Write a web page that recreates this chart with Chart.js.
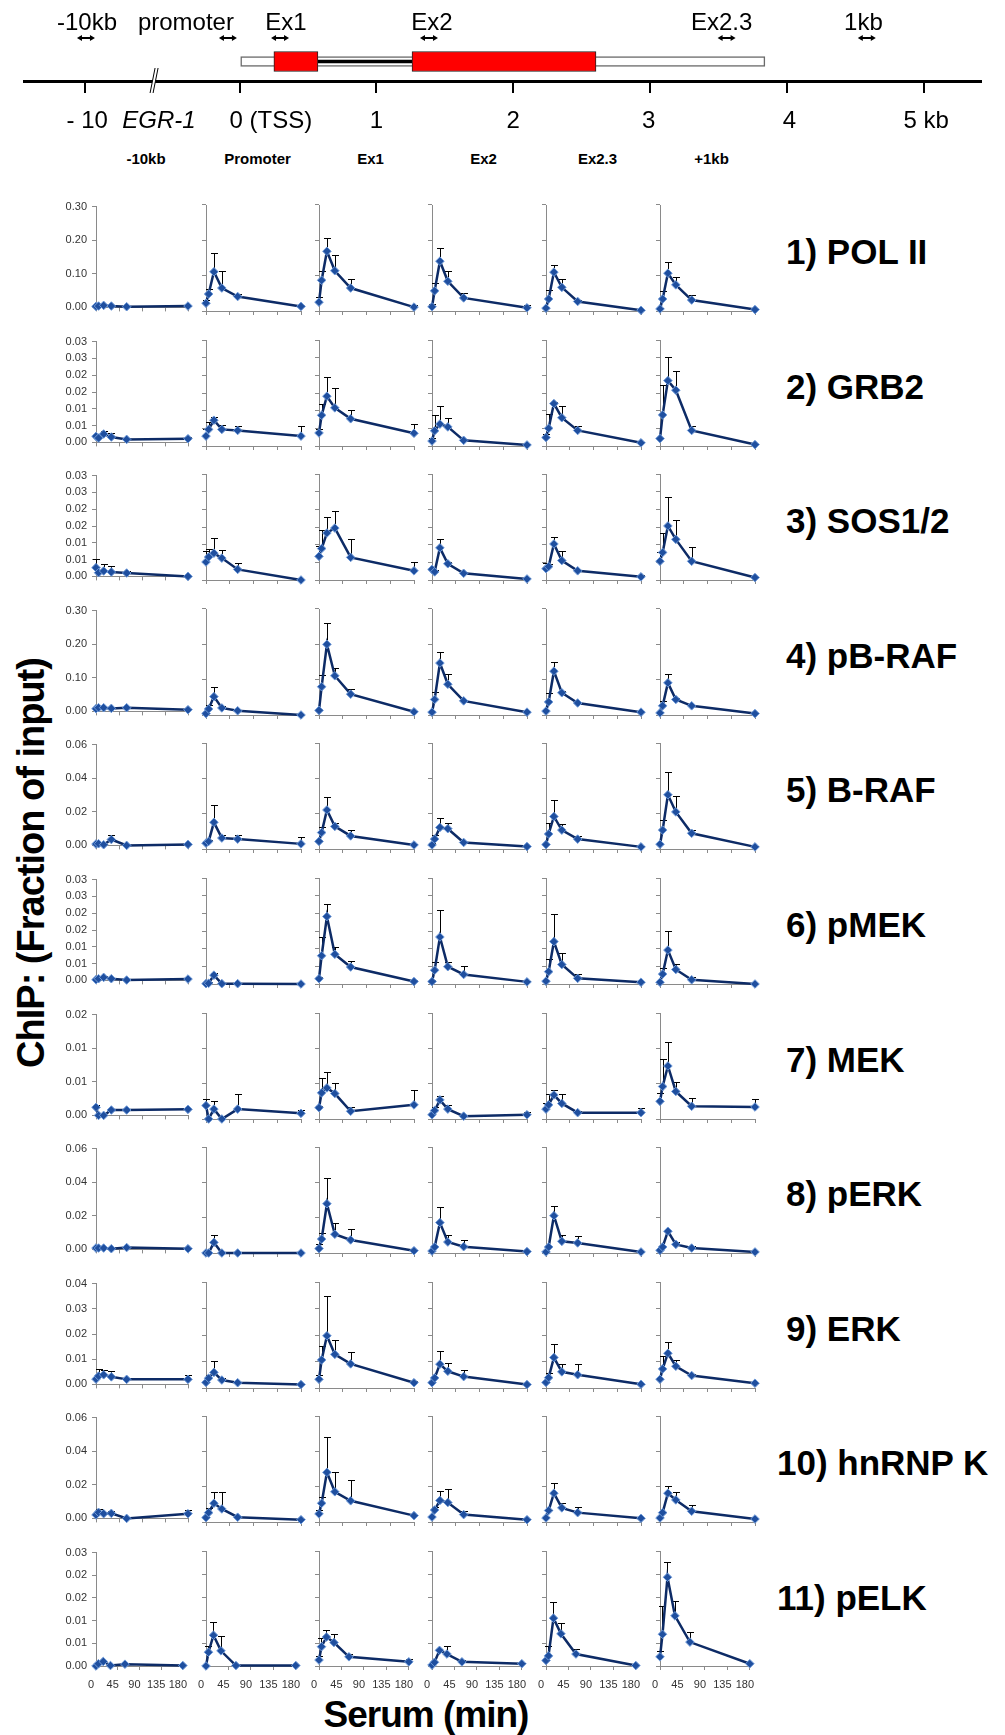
<!DOCTYPE html>
<html>
<head>
<meta charset="utf-8">
<title>EGR-1 ChIP time courses</title>
<script src="https://cdn.jsdelivr.net/npm/chart.js@4.4.1/dist/chart.umd.min.js"></script>
<style>
  body { margin: 0; background: #fff; }
  #page { position: relative; width: 1005px; height: 1735px; overflow: hidden; font-family: 'Liberation Sans', Arial, sans-serif; color: #000; }
  canvas { position: absolute; }
  .hdr { position: absolute; top: 151px; width: 120px; text-align: center; font-weight: bold; font-size: 15px; line-height: 15px; }
  .factor { position: absolute; font-weight: bold; font-size: 35px; line-height: 35px; letter-spacing: 0; white-space: nowrap; }
  #ytitle { position: absolute; left: -209px; top: 841px; width: 480px; height: 44px; line-height: 44px; text-align: center;
            font-weight: bold; font-size: 38px; letter-spacing: -1px; white-space: nowrap; transform: rotate(-90deg); }
  #xtitle { position: absolute; left: 276px; top: 1696px; width: 300px; text-align: center; font-weight: bold;
            font-size: 37px; line-height: 37px; letter-spacing: -1px; }
</style>
</head>
<body>
<div id="page">
  <canvas id="gene" width="1005" height="140" style="left:0;top:0"></canvas>
  <div id="ytitle">ChIP: (Fraction of input)</div>
  <div id="xtitle">Serum (min)</div>
</div>
<script>
// ---- gene map (kb; the -10 kb site sits left of the axis break) ----
const kbRange = [-1.577, 5.42];
const utr = [0, 3.84];
const exon1 = [0.25, 0.572];
const exon2 = [1.26, 2.605];
const intron = [0.572, 1.26];
const kbTicks = [-1.131, 0, 1, 2, 3, 4, 5];
const kbLabels = ['- 10', '0 (TSS)', '1', '2', '3', '4', '5 kb'];
const kbLabelPos = [-1.115, 0.228, 1, 2, 2.99, 4.02, 5.02];
const geneName = 'EGR-1';
const geneNamePos = -0.59;
const axisBreakKb = -0.626;
const primers = ['-10kb', 'promoter', 'Ex1', 'Ex2', 'Ex2.3', '1kb'];
const primerPos = [-1.124, -0.086, 0.295, 1.384, 3.56, 4.585];
const primerLabelPos = [-1.116, -0.393, 0.338, 1.405, 3.524, 4.56];

// ---- ChIP panels ----
const times = [0, 5, 15, 30, 60, 180];
const timeTicks = [0, 45, 90, 135, 180];
const regions = ['-10kb', 'Promoter', 'Ex1', 'Ex2', 'Ex2.3', '+1kb'];
const factors = ['1) POL II', '2) GRB2', '3) SOS1/2', '4) pB-RAF', '5) B-RAF', '6) pMEK',
                 '7) MEK', '8) pERK', '9) ERK', '10) hnRNP K', '11) pELK'];
const yMax  = [0.30, 0.03, 0.03, 0.30, 0.06, 0.03, 0.015, 0.06, 0.04, 0.06, 0.025];
const yStep = [0.10, 0.005, 0.005, 0.10, 0.02, 0.005, 0.005, 0.02, 0.01, 0.02, 0.005];

// one row per region (-10kb, Promoter, Ex1, Ex2, Ex2.3, +1kb), one value per time point
const polII = [
  [0.003, 0.004, 0.006, 0.004, 0.002, 0.004],
  [0.022, 0.048, 0.111, 0.065, 0.041, 0.013],
  [0.025, 0.087, 0.169, 0.114, 0.065, 0.011],
  [0.012, 0.057, 0.141, 0.084, 0.037, 0.009],
  [0.008, 0.034, 0.110, 0.067, 0.027, 0.002],
  [0.006, 0.034, 0.107, 0.074, 0.031, 0.004]];
const polIIErr = [
  [0.001, 0.001, 0.001, 0.001, 0.001, 0.001],
  [0.009, 0.014, 0.052, 0.048, 0.006, 0.005],
  [0.016, 0.026, 0.039, 0.044, 0.025, 0.007],
  [0.009, 0.023, 0.037, 0.029, 0.014, 0.008],
  [0.003, 0.026, 0.020, 0.023, 0.005, 0.002],
  [0.003, 0.023, 0.032, 0.023, 0.013, 0.002]];

const grb2 = [
  [0.0018, 0.0013, 0.0025, 0.0016, 0.0009, 0.0011],
  [0.0028, 0.0047, 0.0073, 0.0047, 0.0044, 0.0028],
  [0.0037, 0.0087, 0.0141, 0.0108, 0.0077, 0.0036],
  [0.0014, 0.0043, 0.0062, 0.0054, 0.0016, 0.0003],
  [0.0024, 0.0050, 0.0120, 0.0080, 0.0044, 0.0009],
  [0.0021, 0.0088, 0.0185, 0.0158, 0.0044, 0.0004]];
const grb2Err = [
  [0.0008, 0.0008, 0.0008, 0.0012, 0.0005, 0.0006],
  [0.0020, 0.0020, 0.0010, 0.0012, 0.0013, 0.0029],
  [0.0010, 0.0033, 0.0053, 0.0056, 0.0024, 0.0026],
  [0.0010, 0.0044, 0.0050, 0.0025, 0.0005, 0.0002],
  [0.0010, 0.0040, 0.0005, 0.0032, 0.0013, 0.0003],
  [0.0003, 0.0084, 0.0067, 0.0053, 0.0013, 0.0002]];

const sos = [
  [0.0026, 0.0011, 0.0016, 0.0013, 0.0010, 0.0000],
  [0.0051, 0.0065, 0.0076, 0.0062, 0.0030, 0.0000],
  [0.0067, 0.0089, 0.0133, 0.0147, 0.0064, 0.0026],
  [0.0030, 0.0023, 0.0091, 0.0046, 0.0019, 0.0003],
  [0.0032, 0.0038, 0.0102, 0.0055, 0.0026, 0.0009],
  [0.0053, 0.0078, 0.0153, 0.0115, 0.0053, 0.0007]];
const sosErr = [
  [0.0025, 0.0008, 0.0020, 0.0017, 0.0005, 0.0000],
  [0.0030, 0.0022, 0.0044, 0.0024, 0.0017, 0.0000],
  [0.0028, 0.0052, 0.0044, 0.0047, 0.0052, 0.0025],
  [0.0005, 0.0005, 0.0025, 0.0005, 0.0003, 0.0002],
  [0.0017, 0.0008, 0.0019, 0.0027, 0.0003, 0.0004],
  [0.0027, 0.0054, 0.0081, 0.0054, 0.0041, 0.0002]];

const pbraf = [
  [0.008, 0.011, 0.011, 0.009, 0.011, 0.005],
  [0.004, 0.017, 0.052, 0.020, 0.012, 0.000],
  [0.013, 0.080, 0.200, 0.111, 0.059, 0.009],
  [0.008, 0.044, 0.147, 0.087, 0.040, 0.008],
  [0.011, 0.037, 0.124, 0.063, 0.034, 0.008],
  [0.006, 0.026, 0.091, 0.044, 0.026, 0.004]];
const pbrafErr = [
  [0.002, 0.002, 0.002, 0.002, 0.002, 0.002],
  [0.005, 0.011, 0.027, 0.006, 0.003, 0.001],
  [0.003, 0.034, 0.061, 0.021, 0.014, 0.002],
  [0.002, 0.022, 0.030, 0.029, 0.002, 0.002],
  [0.002, 0.026, 0.026, 0.004, 0.003, 0.002],
  [0.002, 0.014, 0.025, 0.003, 0.002, 0.001]];

const braf = [
  [0.0008, 0.0010, 0.0004, 0.0035, 0.0000, 0.0006],
  [0.0033, 0.0043, 0.0151, 0.0062, 0.0056, 0.0029],
  [0.0043, 0.0093, 0.0221, 0.0128, 0.0074, 0.0023],
  [0.0023, 0.0056, 0.0122, 0.0115, 0.0037, 0.0014],
  [0.0025, 0.0085, 0.0184, 0.0107, 0.0056, 0.0012],
  [0.0027, 0.0107, 0.0307, 0.0210, 0.0089, 0.0012]];
const brafErr = [
  [0.0005, 0.0005, 0.0005, 0.0025, 0.0003, 0.0003],
  [0.0010, 0.0010, 0.0098, 0.0015, 0.0024, 0.0037],
  [0.0010, 0.0033, 0.0074, 0.0022, 0.0031, 0.0005],
  [0.0010, 0.0026, 0.0051, 0.0031, 0.0005, 0.0003],
  [0.0005, 0.0061, 0.0092, 0.0033, 0.0016, 0.0003],
  [0.0005, 0.0058, 0.0130, 0.0091, 0.0018, 0.0003]];

const pmek = [
  [0.0002, 0.0005, 0.0009, 0.0005, 0.0001, 0.0004],
  [0.0001, 0.0002, 0.0025, 0.0001, 0.0001, 0.0000],
  [0.0015, 0.0080, 0.0191, 0.0084, 0.0048, 0.0007],
  [0.0007, 0.0039, 0.0133, 0.0049, 0.0027, 0.0006],
  [0.0008, 0.0035, 0.0120, 0.0055, 0.0016, 0.0005],
  [0.0005, 0.0028, 0.0096, 0.0041, 0.0012, 0.0000]];
const pmekErr = [
  [0.0002, 0.0002, 0.0003, 0.0002, 0.0001, 0.0002],
  [0.0000, 0.0003, 0.0007, 0.0000, 0.0000, 0.0000],
  [0.0005, 0.0052, 0.0035, 0.0021, 0.0016, 0.0003],
  [0.0003, 0.0022, 0.0077, 0.0014, 0.0023, 0.0002],
  [0.0003, 0.0035, 0.0077, 0.0033, 0.0012, 0.0002],
  [0.0002, 0.0018, 0.0055, 0.0015, 0.0008, 0.0001]];

const mek = [
  [0.0012, 0.0000, 0.0000, 0.0008, 0.0008, 0.0009],
  [0.0019, 0.0000, 0.0014, 0.0000, 0.0014, 0.0008],
  [0.0016, 0.0037, 0.0044, 0.0036, 0.0011, 0.0020],
  [0.0006, 0.0012, 0.0027, 0.0014, 0.0004, 0.0006],
  [0.0014, 0.0020, 0.0034, 0.0022, 0.0009, 0.0009],
  [0.0025, 0.0046, 0.0075, 0.0039, 0.0018, 0.0017]];
const mekErr = [
  [0.0004, 0.0000, 0.0000, 0.0002, 0.0002, 0.0002],
  [0.0009, 0.0000, 0.0011, 0.0000, 0.0021, 0.0005],
  [0.0003, 0.0021, 0.0022, 0.0015, 0.0006, 0.0021],
  [0.0002, 0.0005, 0.0006, 0.0006, 0.0001, 0.0004],
  [0.0008, 0.0015, 0.0007, 0.0013, 0.0002, 0.0007],
  [0.0012, 0.0039, 0.0034, 0.0014, 0.0012, 0.0011]];

const perk = [
  [0.0008, 0.0008, 0.0008, 0.0004, 0.0011, 0.0004],
  [0.0000, 0.0000, 0.0060, 0.0000, 0.0000, 0.0000],
  [0.0025, 0.0079, 0.0279, 0.0106, 0.0074, 0.0013],
  [0.0011, 0.0034, 0.0172, 0.0062, 0.0036, 0.0008],
  [0.0006, 0.0034, 0.0211, 0.0066, 0.0057, 0.0006],
  [0.0015, 0.0034, 0.0123, 0.0049, 0.0028, 0.0006]];
const perkErr = [
  [0.0003, 0.0003, 0.0003, 0.0003, 0.0003, 0.0003],
  [0.0000, 0.0000, 0.0042, 0.0000, 0.0000, 0.0000],
  [0.0024, 0.0034, 0.0146, 0.0066, 0.0060, 0.0005],
  [0.0005, 0.0005, 0.0088, 0.0038, 0.0036, 0.0003],
  [0.0003, 0.0005, 0.0055, 0.0034, 0.0037, 0.0002],
  [0.0003, 0.0008, 0.0009, 0.0013, 0.0010, 0.0002]];

const erk = [
  [0.0021, 0.0033, 0.0038, 0.0030, 0.0020, 0.0020],
  [0.0021, 0.0037, 0.0059, 0.0030, 0.0020, 0.0013],
  [0.0033, 0.0106, 0.0197, 0.0127, 0.0091, 0.0020],
  [0.0020, 0.0038, 0.0090, 0.0063, 0.0043, 0.0013],
  [0.0021, 0.0039, 0.0115, 0.0061, 0.0050, 0.0014],
  [0.0033, 0.0072, 0.0131, 0.0082, 0.0047, 0.0018]];
const erkErr = [
  [0.0005, 0.0030, 0.0019, 0.0023, 0.0005, 0.0017],
  [0.0005, 0.0012, 0.0044, 0.0008, 0.0003, 0.0003],
  [0.0015, 0.0054, 0.0149, 0.0055, 0.0043, 0.0008],
  [0.0005, 0.0005, 0.0048, 0.0033, 0.0026, 0.0002],
  [0.0005, 0.0018, 0.0052, 0.0031, 0.0042, 0.0002],
  [0.0005, 0.0048, 0.0041, 0.0025, 0.0005, 0.0002]];

const hnrnpk = [
  [0.0021, 0.0036, 0.0028, 0.0030, 0.0000, 0.0028],
  [0.0025, 0.0053, 0.0106, 0.0074, 0.0027, 0.0013],
  [0.0046, 0.0106, 0.0281, 0.0171, 0.0120, 0.0036],
  [0.0028, 0.0068, 0.0122, 0.0110, 0.0042, 0.0013],
  [0.0023, 0.0065, 0.0163, 0.0080, 0.0053, 0.0021],
  [0.0023, 0.0053, 0.0163, 0.0125, 0.0061, 0.0017]];
const hnrnpkErr = [
  [0.0005, 0.0021, 0.0005, 0.0016, 0.0000, 0.0023],
  [0.0005, 0.0025, 0.0061, 0.0093, 0.0005, 0.0003],
  [0.0020, 0.0033, 0.0201, 0.0110, 0.0115, 0.0005],
  [0.0005, 0.0016, 0.0051, 0.0074, 0.0021, 0.0002],
  [0.0005, 0.0005, 0.0055, 0.0030, 0.0032, 0.0002],
  [0.0003, 0.0005, 0.0038, 0.0046, 0.0036, 0.0002]];

const pelk = [
  [0.0000, 0.0005, 0.0010, 0.0001, 0.0004, 0.0001],
  [0.0000, 0.0030, 0.0067, 0.0033, 0.0001, 0.0001],
  [0.0013, 0.0042, 0.0063, 0.0051, 0.0020, 0.0009],
  [0.0002, 0.0008, 0.0034, 0.0026, 0.0009, 0.0005],
  [0.0012, 0.0022, 0.0104, 0.0070, 0.0026, 0.0001],
  [0.0020, 0.0069, 0.0193, 0.0109, 0.0052, 0.0005]];
const pelkErr = [
  [0.0000, 0.0000, 0.0000, 0.0000, 0.0000, 0.0000],
  [0.0000, 0.0013, 0.0028, 0.0033, 0.0000, 0.0000],
  [0.0008, 0.0018, 0.0015, 0.0018, 0.0006, 0.0006],
  [0.0001, 0.0002, 0.0004, 0.0017, 0.0005, 0.0002],
  [0.0003, 0.0021, 0.0036, 0.0024, 0.0010, 0.0000],
  [0.0012, 0.0061, 0.0034, 0.0032, 0.0023, 0.0000]];

const series = [polII, grb2, sos, pbraf, braf, pmek, mek, perk, erk, hnrnpk, pelk];
const seriesErr = [polIIErr, grb2Err, sosErr, pbrafErr, brafErr, pmekErr, mekErr, perkErr, erkErr, hnrnpkErr, pelkErr];

Chart.defaults.font.family = "'Liberation Sans', Arial, sans-serif";
Chart.defaults.color = '#333';

const page = document.getElementById('page');

// ---------- gene map ----------
function arrow(ctx, x1, x2, y) {
  ctx.beginPath();
  ctx.moveTo(x1 + 3, y); ctx.lineTo(x2 - 3, y); ctx.stroke();
  ctx.beginPath();
  ctx.moveTo(x1, y); ctx.lineTo(x1 + 5, y - 3); ctx.lineTo(x1 + 5, y + 3); ctx.closePath();
  ctx.moveTo(x2, y); ctx.lineTo(x2 - 5, y - 3); ctx.lineTo(x2 - 5, y + 3); ctx.closePath();
  ctx.fill();
}

const geneDecor = {
  id: 'geneDecor',
  afterDraw(chart) {
    const { ctx, chartArea } = chart;
    const x = chart.scales.x;
    const axisY = chartArea.bottom;
    ctx.save();
    ctx.fillStyle = '#000';
    ctx.strokeStyle = '#000';
    ctx.textAlign = 'center';
    ctx.font = "24px 'Liberation Sans', Arial, sans-serif";
    primers.forEach((p, i) => ctx.fillText(p, x.getPixelForValue(primerLabelPos[i]), chartArea.top - 12));
    ctx.lineWidth = 2;
    primerPos.forEach(kb => {
      const cx = x.getPixelForValue(kb);
      arrow(ctx, cx - 9, cx + 9, chartArea.top - 4);
    });
    kbLabels.forEach((t, i) => ctx.fillText(t, x.getPixelForValue(kbLabelPos[i]), axisY + 47));
    ctx.font = "italic 24px 'Liberation Sans', Arial, sans-serif";
    ctx.fillText(geneName, x.getPixelForValue(geneNamePos), axisY + 47);

    // axis break
    const bx = x.getPixelForValue(axisBreakKb);
    ctx.fillStyle = '#fff';
    ctx.beginPath();
    ctx.moveTo(bx - 4, axisY + 12); ctx.lineTo(bx + 1, axisY - 13);
    ctx.lineTo(bx + 4, axisY - 13); ctx.lineTo(bx - 1, axisY + 12); ctx.closePath();
    ctx.fill();
    ctx.lineWidth = 1;
    ctx.beginPath();
    ctx.moveTo(bx - 4, axisY + 12); ctx.lineTo(bx + 1, axisY - 13);
    ctx.moveTo(bx - 1, axisY + 12); ctx.lineTo(bx + 4, axisY - 13);
    ctx.stroke();
    ctx.restore();
  }
};

new Chart(document.getElementById('gene'), {
  type: 'bar',
  data: {
    labels: [geneName],
    datasets: [
      { data: [exon1], backgroundColor: '#ff0000', borderColor: '#222', borderWidth: 1, barThickness: 20, order: 0 },
      { data: [exon2], backgroundColor: '#ff0000', borderColor: '#222', borderWidth: 1, barThickness: 20, order: 0 },
      { data: [intron], backgroundColor: '#000', borderWidth: 0, barThickness: 3, order: 1 },
      { data: [utr], backgroundColor: '#fff', borderColor: '#6a6a6a', borderWidth: 1.5, barThickness: 10, order: 2 }
    ]
  },
  options: {
    indexAxis: 'y',
    responsive: false,
    animation: false,
    devicePixelRatio: 1,
    events: [],
    datasets: { bar: { grouped: false, borderSkipped: false } },
    layout: { padding: { left: 24, right: 24, top: 42, bottom: 0 } },
    plugins: { legend: { display: false }, tooltip: { enabled: false } },
    scales: {
      x: {
        type: 'linear', min: kbRange[0], max: kbRange[1],
        afterBuildTicks: s => { s.ticks = kbTicks.map(v => ({ value: v })); },
        afterFit: s => { s.height = 59; },
        ticks: { display: false },
        grid: { drawOnChartArea: false, drawTicks: true, tickLength: 12, color: '#000', lineWidth: 2 },
        border: { display: true, color: '#000', width: 3 }
      },
      y: { type: 'category', display: false }
    }
  },
  plugins: [geneDecor]
});

// ---------- ChIP panels ----------
const errorBars = {
  id: 'errorBars',
  beforeDatasetsDraw(chart) {
    const { ctx } = chart;
    const x = chart.scales.x, y = chart.scales.y;
    ctx.save();
    ctx.strokeStyle = '#000';
    ctx.lineWidth = 1;
    chart.data.datasets.forEach(ds => {
      ds.data.forEach((p, i) => {
        const e = ds.errors[i];
        if (!e) return;
        const px = Math.round(x.getPixelForValue(p.x)) + 0.5;
        const y0 = y.getPixelForValue(p.y);
        const y1 = Math.round(y.getPixelForValue(p.y + e)) + 0.5;
        ctx.beginPath();
        ctx.moveTo(px, y0); ctx.lineTo(px, y1);
        ctx.moveTo(px - 3.5, y1); ctx.lineTo(px + 3.5, y1);
        ctx.stroke();
      });
    });
    ctx.restore();
  }
};

const colX = [96, 206, 319, 432, 546, 660];
const colW = [92, 95, 95, 95, 95, 95];
const AXIS_W = 50, PAD_TOP = 10, PAD_RIGHT = 12;

regions.forEach((name, c) => {
  const d = document.createElement('div');
  d.className = 'hdr';
  d.textContent = name;
  d.style.left = (colX[c] + colW[c] / 2 + 4 - 60) + 'px';
  page.appendChild(d);
});

factors.forEach((label, r) => {
  const rowTop = Math.round(205 + r * 134.6);
  const plotH = r === factors.length - 1 ? 115 : 106;
  const bottomRow = r === factors.length - 1;
  const xAxisH = bottomRow ? 30 : 8;

  const f = document.createElement('div');
  f.className = 'factor';
  f.textContent = label;
  f.style.left = (r >= 9 ? 777 : 786) + 'px';
  f.style.top = (rowTop + 29) + 'px';
  page.appendChild(f);

  regions.forEach((region, c) => {
    const cv = document.createElement('canvas');
    cv.width = AXIS_W + colW[c] + PAD_RIGHT;
    cv.height = PAD_TOP + plotH + xAxisH;
    cv.style.left = (colX[c] - AXIS_W) + 'px';
    cv.style.top = (rowTop - PAD_TOP) + 'px';
    page.appendChild(cv);

    const vals = series[r][c];
    const errs = seriesErr[r][c];
    const nY = Math.round(yMax[r] / yStep[r]);

    new Chart(cv, {
      type: 'line',
      data: {
        datasets: [{
          label: factors[r] + ' ' + region,
          data: times.map((t, i) => ({ x: t, y: vals[i] })),
          errors: errs,
          borderColor: '#0d2b66',
          borderWidth: 2.5,
          tension: 0,
          fill: false,
          clip: false,
          pointStyle: 'rectRot',
          pointRadius: 4.3,
          pointBackgroundColor: '#1f4f9f',
          pointBorderColor: '#6f9ad8',
          pointBorderWidth: 1
        }]
      },
      options: {
        responsive: false,
        animation: false,
        devicePixelRatio: 1,
        events: [],
        layout: { padding: { left: 0, right: PAD_RIGHT, top: PAD_TOP, bottom: 0 } },
        plugins: { legend: { display: false }, tooltip: { enabled: false } },
        scales: {
          x: {
            type: 'linear', min: 0, max: 180,
            afterBuildTicks: s => { s.ticks = timeTicks.map(v => ({ value: v })); },
            afterFit: s => { s.height = xAxisH; },
            ticks: { display: bottomRow, font: { size: 11 }, color: '#333', padding: 8,
                     maxRotation: 0, autoSkip: false, labelOffset: -5 },
            grid: { drawOnChartArea: false, drawTicks: true, tickLength: 4, color: '#8a8a8a' },
            border: { display: true, color: '#8a8a8a', width: 1 }
          },
          y: {
            min: 0, max: yMax[r],
            afterBuildTicks: s => {
              s.ticks = Array.from({ length: nY + 1 }, (_, i) => ({ value: i * yStep[r] }));
            },
            afterFit: s => { s.width = AXIS_W; },
            ticks: {
              display: c === 0, font: { size: 11 }, color: '#333', padding: 5,
              callback: v => (Math.round(v * 100 + 1e-6) / 100).toFixed(2)
            },
            grid: { drawOnChartArea: false, drawTicks: true, tickLength: 4, color: '#8a8a8a' },
            border: { display: true, color: '#8a8a8a', width: 1 }
          }
        }
      },
      plugins: [errorBars]
    });
  });
});
</script>
</body>
</html>
